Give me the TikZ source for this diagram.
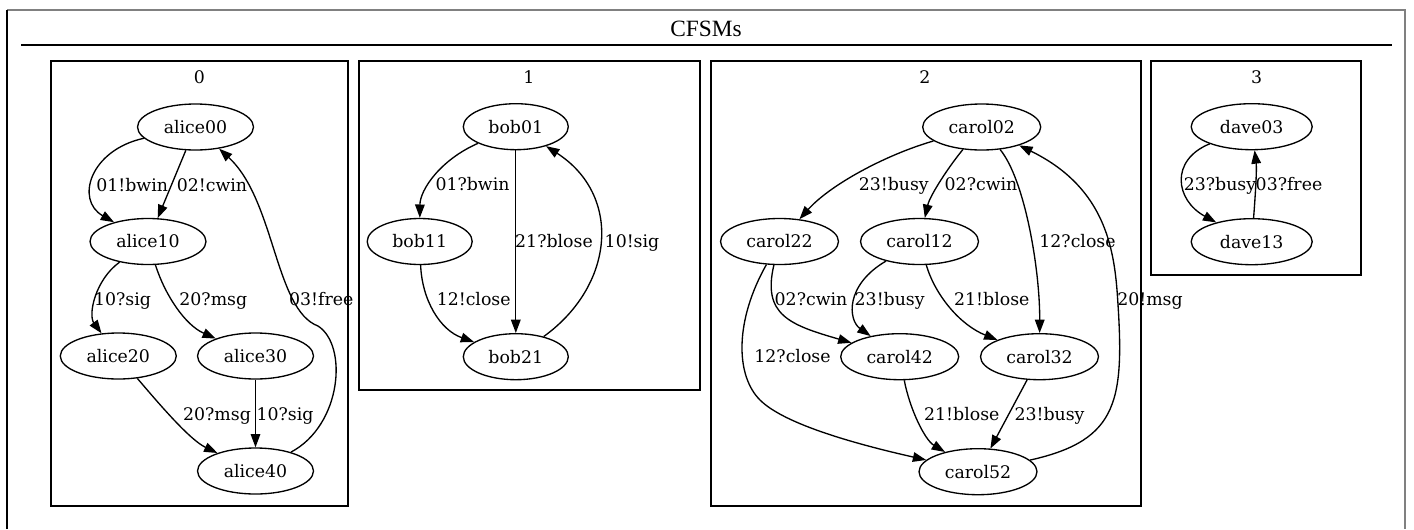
\documentclass[tikz,border=0pt]{standalone}
\usepackage{fontspec}
\setmainfont{DejaVu Serif}
\newfontfamily\titlefont{Liberation Serif}
\usetikzlibrary{arrows.meta,shapes.geometric}

\begin{document}
\begin{tikzpicture}[x=0.75pt,y=-0.75pt,
    arr/.style={-{Triangle[length=10pt,width=7.2pt]}},
    lbl/.style={anchor=base,inner sep=0pt,font=\fontsize{13}{15}\selectfont}]

  \useasboundingbox (0,0) rectangle (1414,529);

  % outer frame, title and rule
  \draw[gray,line width=0.8pt] (7,10) -- (1405,10) -- (1405,529);
  \draw[line width=0.8pt] (7,529) -- (7,10);
  \node[anchor=base,inner sep=0pt,font=\titlefont\fontsize{17.5}{20}\selectfont] (title) at (706,36.7) {CFSMs};
  \draw[line width=0.8pt] (21,45) -- (1392,45);

  % clusters
  \begin{scope}[line width=1.5pt]
    \draw (51,61) rectangle (348,506);
    \draw (359,61) rectangle (700,390);
    \draw (711,61) rectangle (1140.7,506);
    \draw (1151,61) rectangle (1361,275);
  \end{scope}
  \begin{scope}[every node/.style={inner sep=0pt,font=\fontsize{13}{15}\selectfont}]
    \node (c0) at (199.3,76.7) {0};
    \node (c1) at (529,76.7) {1};
    \node (c2) at (925,76.7) {2};
    \node (c3) at (1256.7,76.7) {3};
  \end{scope}

  % states
  \begin{scope}[every node/.style={ellipse,draw,line width=1pt,inner sep=0pt,
      minimum height=34.5pt,font=\fontsize{13}{15}\selectfont}]
    \node[minimum width=87pt] (alice00) at (195.5,127)   {alice00};
    \node[minimum width=87pt] (alice10) at (148,241.5)   {alice10};
    \node[minimum width=87pt] (alice20) at (118.3,356)   {alice20};
    \node[minimum width=87pt] (alice30) at (255.5,356)   {alice30};
    \node[minimum width=87pt] (alice40) at (255.5,471)   {alice40};

    \node[minimum width=78.75pt] (bob01) at (515.8,126.7) {bob01};
    \node[minimum width=78.75pt] (bob11) at (419.7,241.5) {bob11};
    \node[minimum width=78.75pt] (bob21) at (515.8,356.7) {bob21};

    \node[minimum width=88.5pt] (carol02) at (981.7,127)   {carol02};
    \node[minimum width=88.5pt] (carol22) at (779.5,241.5) {carol22};
    \node[minimum width=88.5pt] (carol12) at (919.5,241.5) {carol12};
    \node[minimum width=88.5pt] (carol42) at (899.7,356.7) {carol42};
    \node[minimum width=88.5pt] (carol32) at (1039.5,356.7) {carol32};
    \node[minimum width=88.5pt] (carol52) at (978,471.7)   {carol52};

    \node[minimum width=90.75pt] (dave03) at (1251.7,126.7) {dave03};
    \node[minimum width=90.75pt] (dave13) at (1251.7,241.7) {dave13};
  \end{scope}

  % transitions
  \begin{scope}[line width=1pt]
    \draw[arr] (alice00) .. controls (90,150) and (75,200) .. (alice10);
    \draw[arr] (alice00) -- (alice10);
    \draw[arr] (alice10) .. controls (95,280) and (88,315) .. (alice20);
    \draw[arr] (alice10) .. controls (165,295) and (185,325) .. (alice30);
    \draw[arr] (alice20) .. controls (160,405) and (190,440) .. (alice40);
    \draw[arr] (alice30) -- (alice40);
    \draw[arr] (alice40) .. controls (342,425) and (348,345) .. (318,326)
                         .. controls (275,310) and (275,200) .. (alice00);

    \draw[arr] (bob01) .. controls (440,160) and (420,190) .. (bob11);
    \draw[arr] (bob01) -- (bob21);
    \draw[arr] (bob11) .. controls (422,300) and (440,330) .. (bob21);
    \draw[arr] (bob21) .. controls (615,285) and (622,195) .. (bob01);

    \draw[arr] (carol02) .. controls (885,155) and (830,185) .. (carol22);
    \draw[arr] (carol02) .. controls (950,165) and (930,195) .. (carol12);
    \draw[arr] (carol02) .. controls (1025,180) and (1040,270) .. (carol32);
    \draw[arr] (carol22) .. controls (762,315) and (790,325) .. (carol42);
    \draw[arr] (carol22) .. controls (735,320) and (735,375) .. (760,400)
                         .. controls (785,425) and (860,445) .. (carol52);
    \draw[arr] (carol12) .. controls (845,285) and (848,320) .. (carol42);
    \draw[arr] (carol12) .. controls (935,295) and (960,325) .. (carol32);
    \draw[arr] (carol42) .. controls (910,410) and (925,440) .. (carol52);
    \draw[arr] (carol32) -- (carol52);
    \draw[arr] (carol52) .. controls (1120,440) and (1125,400) .. (1117,290)
                         .. controls (1113,240) and (1100,185) .. (carol02);

    \draw[arr] (dave03) .. controls (1170,160) and (1175,200) .. (dave13);
    \draw[arr] (dave13) .. controls (1255,200) and (1257,170) .. (dave03);
  \end{scope}

  % transition labels
  \begin{scope}[every node/.style={lbl}]
    \node (la1) at (132.2,191) {01!bwin};
    \node (la2) at (212,191)   {02!cwin};
    \node (la3) at (122.5,305) {10?sig};
    \node (la4) at (213.3,305) {20?msg};
    \node (la5) at (217,420)   {20?msg};
    \node (la6) at (285,420)   {10?sig};
    \node (la7) at (321.3,305) {03!free};

    \node (lb1) at (472.5,190)   {01?bwin};
    \node (lb2) at (554,247.5)   {21?blose};
    \node (lb3) at (473.7,305)   {12!close};
    \node (lb4) at (632,247.5)   {10!sig};

    \node (lc1) at (893.8,190.5)  {23!busy};
    \node (lc2) at (981,190.5)    {02?cwin};
    \node (lc3) at (1077.5,247.5) {12?close};
    \node (lc4) at (811,305)      {02?cwin};
    \node (lc5) at (889.7,305)    {23!busy};
    \node (lc6) at (991.8,305)    {21!blose};
    \node (lc7) at (792.5,362)    {12?close};
    \node (lc8) at (961.8,420)    {21!blose};
    \node (lc9) at (1049.5,420)   {23!busy};
    \node (lc10) at (1150,305)    {20!msg};

    \node (ld1) at (1220,190) {23?busy};
    \node (ld2) at (1289,190) {03?free};
  \end{scope}

\end{tikzpicture}
\end{document}
